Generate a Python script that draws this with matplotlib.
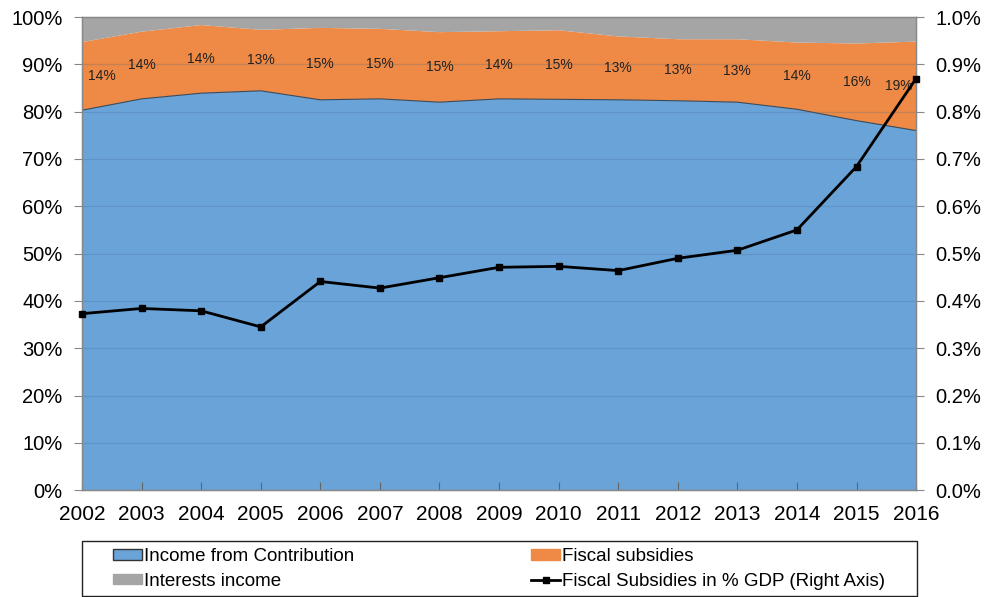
import matplotlib.pyplot as plt
import numpy as np
from matplotlib.patches import Patch, Rectangle
from matplotlib.lines import Line2D

plt.rcParams['font.family'] = ['Liberation Sans', 'DejaVu Sans']

years = [2002, 2003, 2004, 2005, 2006, 2007, 2008, 2009, 2010, 2011, 2012, 2013, 2014, 2015, 2016]
contribution = [80.3, 82.7, 83.9, 84.4, 82.5, 82.7, 82.0, 82.7, 82.6, 82.5, 82.3, 82.0, 80.5, 78.1, 76.0]
subsidies = [14.4, 14.2, 14.4, 12.9, 15.2, 14.8, 14.8, 14.3, 14.6, 13.4, 13.0, 13.3, 14.1, 16.3, 18.8]
interests = [5.3, 3.1, 1.7, 2.7, 2.3, 2.5, 3.2, 3.0, 2.8, 4.1, 4.7, 4.7, 5.4, 5.6, 5.2]
subsidies_gdp = [0.373, 0.384, 0.379, 0.345, 0.441, 0.427, 0.449, 0.471, 0.473, 0.464, 0.490, 0.507, 0.550, 0.684, 0.870]

c_blue = '#69A3D8'
c_orange = '#EE8A45'
c_gray = '#A5A5A5'

fig = plt.figure(figsize=(9.86, 5.97), dpi=100)
ax = fig.add_axes([0.0832, 0.179, 0.8459, 0.7925])

x = np.array(years)
ax.stackplot(x, contribution, subsidies, interests, colors=[c_blue, c_orange, c_gray],
             linewidth=0, zorder=1)
ax.plot(x, contribution, color='#3a4a5a', linewidth=0.8, zorder=2)

# grid lines over the areas
for g in range(10, 100, 10):
    ax.axhline(g, color='#4a6a8a', alpha=0.25, linewidth=0.9, zorder=2)

# subsidy share labels in the middle of the orange band
for i, yr in enumerate(years):
    mid = contribution[i] + subsidies[i] / 2
    txt = f'{round(subsidies[i])}%'
    if i == 0:
        ax.text(yr + 0.1, mid, txt, ha='left', va='center', fontsize=10, color='#222222', zorder=4)
    elif i == len(years) - 1:
        ax.text(yr - 0.05, mid, txt, ha='right', va='center', fontsize=10, color='#222222', zorder=4)
    else:
        ax.text(yr, mid, txt, ha='center', va='center', fontsize=10, color='#222222', zorder=4)

ax.set_xlim(2002, 2016)
ax.set_ylim(0, 100)
ax.set_yticks(range(0, 101, 10))
ax.set_yticklabels([f'{v}%' for v in range(0, 101, 10)], fontsize=14.5)
ax.set_xticks(years)
ax.set_xticklabels([str(y) for y in years], fontsize=15)
ax.tick_params(axis='x', direction='in', length=6, color='#666666', pad=11)
ax.tick_params(axis='y', direction='out', length=6, color='#888888', pad=8)
for s in ax.spines.values():
    s.set_color('#888888')
    s.set_linewidth(1.0)

ax2 = ax.twinx()
ax2.plot(x, subsidies_gdp, color='black', linewidth=2, marker='s', markersize=5,
         clip_on=False, zorder=5)
ax2.set_ylim(0, 1.0)
ax2.set_yticks(np.arange(0, 1.01, 0.1))
ax2.set_yticklabels([f'{v:.1f}%' for v in np.arange(0, 1.01, 0.1)], fontsize=14.5)
ax2.tick_params(axis='y', direction='out', length=6, color='#888888', pad=8)
for s in ax2.spines.values():
    s.set_color('#888888')

# legend frame
fig.patches.append(Rectangle((82 / 986, 1 / 597), 835 / 986, 55 / 597, transform=fig.transFigure,
                             facecolor='white', edgecolor='#222222', linewidth=1.0, zorder=0))

leg_kw = dict(loc='center left', fontsize=13.5, frameon=False, handlelength=1.55,
              handleheight=0.5, handletextpad=0.1, borderaxespad=0, borderpad=0,
              labelspacing=0.4)
fig.legend([Patch(facecolor=c_blue, edgecolor='#333333', linewidth=1),
            Patch(facecolor=c_gray, edgecolor=c_gray)],
           ['Income from Contribution', 'Interests income'],
           bbox_to_anchor=(113 / 986, 28 / 597), **leg_kw)
fig.legend([Patch(facecolor=c_orange, edgecolor=c_orange),
            Line2D([0], [0], color='black', linewidth=2, marker='s', markersize=4)],
           ['Fiscal subsidies', 'Fiscal Subsidies in % GDP (Right Axis)'],
           bbox_to_anchor=(531 / 986, 28 / 597), **leg_kw)

fig.savefig('out.png', dpi=100)
